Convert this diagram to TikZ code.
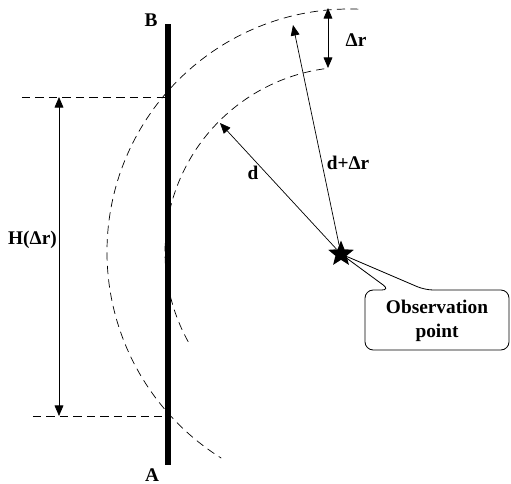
\documentclass[tikz,border=0pt]{standalone}
\usepackage{fontspec}
\setmainfont{Liberation Serif}
\usetikzlibrary{arrows.meta,shapes.geometric}
\tikzset{
  guide/.style={dash pattern=on 7pt off 4.5pt, line width=0.6pt},
  ray/.style={line width=0.6pt, -{Triangle[length=9pt,width=7.5pt]}},
  twoway/.style={line width=0.6pt, {Triangle[length=9pt,width=7.5pt]}-{Triangle[length=9pt,width=7.5pt]}},
  lbl/.style={font=\fontsize{16.5}{21}\selectfont\bfseries, inner sep=0pt}
}
\begin{document}
\begin{tikzpicture}[scale=.03]
  \useasboundingbox (0,0) rectangle (511,484);
  \coordinate (C) at (350,232);
  % wave fronts
  \draw [guide] (C) ++(88:243) arc[start angle=88, end angle=238, radius=243];
  \draw [guide] (C) ++(98:185) arc[start angle=98, end angle=210, radius=185];
  % height guides
  \coordinate (Htop) at (22,387);  \coordinate (Hwt) at (168,387);
  \coordinate (Hbot) at (33,68);   \coordinate (Hwb) at (168,68);
  \coordinate (Hup) at (59,387);   \coordinate (Hdn) at (59,68);
  \draw [guide] (Htop) -- (Hwt);
  \draw [guide] (Hbot) -- (Hwb);
  \draw [twoway] (Hup) -- (Hdn);
  \node [lbl, anchor=east] (hlbl) at (57,244) {H(Δr)};
  % the wall
  \coordinate (A) at (168,19);  \coordinate (B) at (168,460);
  \draw [line width=4.5pt] (A) -- (B);
  \node [lbl] (Blbl) at (151,464) {B};
  \node [lbl] (Albl) at (152,9) {A};
  % observation point and rays
  \node [star, star points=5, star point ratio=2.3, fill, minimum size=23pt, inner sep=0pt] (obs) at (341,230) {};
  \coordinate (dtip) at (220,361);
  \coordinate (drtip) at (293,459);
  \draw [ray] (obs) -- (dtip);
  \draw [ray] (obs) -- (drtip);
  \node [lbl] (dlbl) at (253,311) {d};
  \node [lbl] (drlbl) at (348,321) {d+Δr};
  \coordinate (rout) at (328,476);  \coordinate (rin) at (328,416);
  \draw [twoway] (rout) -- (rin);
  \node [lbl] (rlbl) at (356,444) {Δr};
  % callout
  \draw [line width=0.7pt, rounded corners=7pt] (obs.center) -- (390,194) -- (365,194) -- (365,134)
        -- (509,134) -- (509,194) -- (425,194) -- cycle;
  \node [lbl, align=center] (obstext) at (437,163) {Observation\\point};
\end{tikzpicture}
\end{document}
